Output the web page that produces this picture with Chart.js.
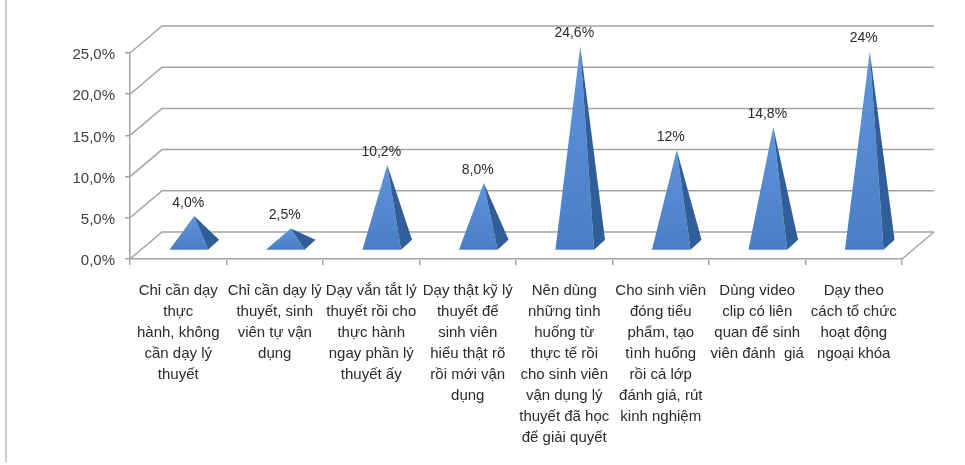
<!DOCTYPE html>
<html>
<head>
<meta charset="utf-8">
<script src="https://cdn.jsdelivr.net/npm/chart.js@4/dist/chart.umd.min.js"></script>
<style>
  body { margin: 0; background: #fff; }
  canvas { display: block; }
</style>
</head>
<body>
<canvas id="chart" width="965" height="465"></canvas>
<script>
const categories = [
  ['Chỉ cần dạy', 'thực', 'hành, không', 'cần dạy lý', 'thuyết'],
  ['Chỉ cần dạy lý', 'thuyết, sinh', 'viên tự vận', 'dụng'],
  ['Dạy vắn tắt lý', 'thuyết rồi cho', 'thực hành', 'ngay phần lý', 'thuyết ấy'],
  ['Dạy thật kỹ lý', 'thuyết để', 'sinh viên', 'hiểu thật rõ', 'rồi mới vận', 'dụng'],
  ['Nên dùng', 'những tình', 'huống từ', 'thực tế rồi', 'cho sinh viên', 'vận dụng lý', 'thuyết đã học', 'để giải quyết'],
  ['Cho sinh viên', 'đóng tiểu', 'phẩm, tạo', 'tình huống', 'rồi cả lớp', 'đánh giá, rút', 'kinh nghiệm'],
  ['Dùng video', 'clip có liên', 'quan để sinh', 'viên đánh  giá'],
  ['Dạy theo', 'cách tổ chức', 'hoạt động', 'ngoại khóa']
];
const values = [4.0, 2.5, 10.2, 8.0, 24.6, 12, 14.8, 24];
const valueLabels = ['4,0%', '2,5%', '10,2%', '8,0%', '24,6%', '12%', '14,8%', '24%'];
const yMax = 25;
const yStep = 5;

const FONT = '"Liberation Sans", Arial, sans-serif';
const GRID = '#a4a4a4';
// oblique offset of the back wall and of the middle depth where pyramids stand
const WALL_X = 32, WALL_Y = 27;
const MID_X = 16, MID_Y = 13.5;
const SIDE_X = 11, SIDE_Y = 10;
const TIP = 3.5; // the very tip of the pyramid fades out in the original

const walls = {
  id: 'walls',
  beforeDraw(chart) {
    const ctx = chart.ctx;
    ctx.save();
    ctx.strokeStyle = '#cfcfcf';
    ctx.lineWidth = 2;
    ctx.beginPath();
    ctx.moveTo(6, 0);
    ctx.lineTo(6, 462);
    ctx.stroke();
    ctx.restore();
  },
  beforeDatasetsDraw(chart) {
    const { ctx, chartArea: a, scales: { y } } = chart;
    ctx.save();
    ctx.strokeStyle = GRID;
    ctx.lineWidth = 1.5;
    for (let v = 0; v <= yMax; v += yStep) {
      const py = y.getPixelForValue(v);
      ctx.beginPath();
      ctx.moveTo(a.left, py);
      ctx.lineTo(a.left + WALL_X, py - WALL_Y);
      ctx.lineTo(a.right + WALL_X, py - WALL_Y);
      ctx.stroke();
    }
    // right edge of the floor
    const p0 = y.getPixelForValue(0);
    ctx.beginPath();
    ctx.moveTo(a.right, p0);
    ctx.lineTo(a.right + WALL_X, p0 - WALL_Y);
    ctx.stroke();
    ctx.restore();
  },
  afterDatasetsDraw(chart) {
    const ctx = chart.ctx;
    const meta = chart.getDatasetMeta(0);
    ctx.save();
    meta.data.forEach((el, i) => {
      const { x, y, base, width } = el.getProps(['x', 'y', 'base', 'width'], true);
      const cx = x + MID_X, cy = base - MID_Y;
      const hw = width / 2;
      const fl = [cx - hw - SIDE_X / 2, cy + SIDE_Y / 2];
      const fr = [cx + hw - SIDE_X / 2, cy + SIDE_Y / 2];
      const br = [cx + hw + SIDE_X / 2, cy - SIDE_Y / 2];
      const apex = [cx, y - MID_Y + TIP];

      const g = ctx.createLinearGradient(0, apex[1], 0, fl[1]);
      g.addColorStop(0, '#5f95db');
      g.addColorStop(1, '#4a7ec4');
      ctx.fillStyle = g;
      ctx.beginPath();
      ctx.moveTo(fl[0], fl[1]);
      ctx.lineTo(fr[0], fr[1]);
      ctx.lineTo(apex[0], apex[1]);
      ctx.closePath();
      ctx.fill();

      ctx.fillStyle = '#2f5e99';
      ctx.beginPath();
      ctx.moveTo(fr[0], fr[1]);
      ctx.lineTo(br[0], br[1]);
      ctx.lineTo(apex[0], apex[1]);
      ctx.closePath();
      ctx.fill();

      ctx.fillStyle = '#2b2b2b';
      ctx.font = '14px ' + FONT;
      ctx.textAlign = 'center';
      ctx.textBaseline = 'middle';
      ctx.fillText(valueLabels[i], apex[0] - 6, apex[1] - 13);
    });
    ctx.restore();
  }
};

new Chart(document.getElementById('chart'), {
  type: 'bar',
  data: {
    labels: categories,
    datasets: [{
      data: values,
      backgroundColor: 'rgba(0,0,0,0)',
      borderWidth: 0,
      categoryPercentage: 1,
      barPercentage: 0.4
    }]
  },
  options: {
    responsive: false,
    animation: false,
    layout: { padding: { top: 53, right: 63, left: 0, bottom: 0 } },
    plugins: {
      legend: { display: false },
      tooltip: { enabled: false }
    },
    scales: {
      x: {
        afterFit(scale) { scale.height = 206; },
        grid: { display: true, drawOnChartArea: false, tickLength: 6, color: GRID, lineWidth: 1.5 },
        border: { display: true, color: GRID, width: 1.5 },
        ticks: {
          autoSkip: false,
          maxRotation: 0,
          minRotation: 0,
          padding: 15,
          color: '#2b2b2b',
          font: { family: FONT, size: 15, lineHeight: 1.4 }
        }
      },
      y: {
        min: 0,
        max: yMax,
        afterFit(scale) { scale.width = 130; },
        grid: { display: true, drawOnChartArea: false, tickLength: 5, color: GRID, lineWidth: 1.5 },
        border: { display: true, color: GRID, width: 1.5 },
        ticks: {
          stepSize: yStep,
          padding: 10,
          labelOffset: 2,
          color: '#404040',
          font: { family: FONT, size: 15 },
          callback: v => v.toFixed(1).replace('.', ',') + '%'
        }
      }
    }
  },
  plugins: [walls]
});
</script>
</body>
</html>
